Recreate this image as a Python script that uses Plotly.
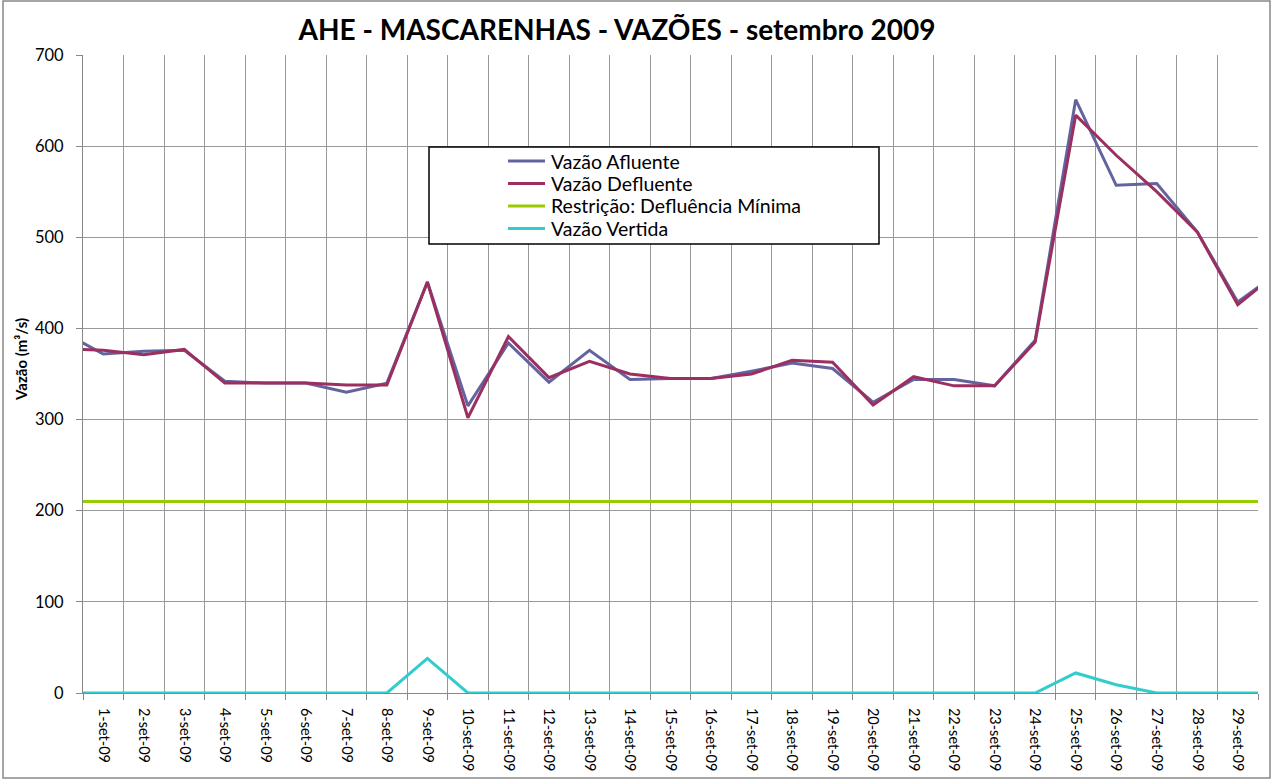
import plotly.graph_objects as go

# day numbers (0 = 31-ago, 30 = 30-set, partially outside visible range)
days = list(range(0, 31))
tick_days = list(range(1, 30))
tick_labels = [f"{d}-set-09" for d in tick_days]

afluente = [396, 372, 375, 376, 342, 340, 340, 330, 340, 451, 315, 384, 341, 376, 344, 345, 345,
            353, 362, 356, 319, 344, 344, 337, 387, 651, 557, 559, 506, 429, 461]
defluente = [378, 376, 371, 377, 340, 340, 340, 338, 338, 451, 302, 391, 346, 364, 350, 345, 345,
             350, 365, 363, 316, 347, 337, 337, 385, 634, 590, 550, 506, 426, 462]
restricao = [210] * 31
vertida = [0, 0, 0, 0, 0, 0, 0, 0, 0, 38, 0, 0, 0, 0, 0, 0, 0,
           0, 0, 0, 0, 0, 0, 0, 0, 22, 9, 0, 0, 0, 0]

series = [
    ("Vazão Afluente", afluente, "#63649F"),
    ("Vazão Defluente", defluente, "#9A2F60"),
    ("Restrição: Defluência Mínima", restricao, "#99CC00"),
    ("Vazão Vertida", vertida, "#33CCCC"),
]

FONT = "Lato"
W, H = 1273, 780
ml, mr, mt, mb = 83, 15, 55, 87
pw, ph = W - ml - mr, H - mt - mb

def px(xp):
    return (xp - ml) / pw

def py(yp):
    return (H - mb - yp) / ph

fig = go.Figure()
for name, vals, color in series:
    fig.add_trace(go.Scatter(x=days, y=vals, name=name, mode="lines",
                             line=dict(color=color, width=3), showlegend=False,
                             hoverinfo="skip"))

# manual legend (box, line samples, labels)
shapes = [
    dict(type="rect", xref="paper", yref="paper",
         x0=px(429), x1=px(879), y0=py(244), y1=py(147),
         fillcolor="white", line=dict(color="black", width=1.5), layer="above"),
    dict(type="rect", xref="paper", yref="paper",
         x0=px(3), x1=px(1270), y0=py(778), y1=py(1),
         fillcolor="rgba(0,0,0,0)", line=dict(color="#888888", width=1.5), layer="below"),
]
annotations = []
leg_y = [161, 183.5, 206, 228.5]
for (name, vals, color), yy in zip(series, leg_y):
    shapes.append(dict(type="line", xref="paper", yref="paper",
                       x0=px(508), x1=px(545), y0=py(yy), y1=py(yy),
                       line=dict(color=color, width=3), layer="above"))
    annotations.append(dict(text=name, xref="paper", yref="paper",
                            x=px(549), y=py(yy), xanchor="left", yanchor="middle",
                            showarrow=False, font=dict(size=19.5, family=FONT, color="black")))

annotations.append(dict(text="<b>Vazão (m³/s)</b>", xref="paper", yref="paper",
                        x=px(21), y=py(360), xanchor="center", yanchor="middle",
                        textangle=-90, showarrow=False,
                        font=dict(size=15, family=FONT, color="black")))

fig.update_layout(
    width=W, height=H,
    margin=dict(l=ml, r=mr, t=mt, b=mb, autoexpand=False),
    paper_bgcolor="white", plot_bgcolor="white",
    font=dict(family=FONT, color="black", size=14),
    title=dict(text="<b>AHE - MASCARENHAS - VAZÕES - setembro 2009</b>",
               x=617 / W, xanchor="center", y=1 - 30 / H, yanchor="middle",
               font=dict(size=28, family=FONT, color="black")),
    showlegend=False,
    xaxis=dict(range=[0.5, 29.5], tickmode="array", tickvals=tick_days, ticktext=tick_labels,
               tickangle=90, ticks="", showgrid=False, zeroline=False,
               showline=True, linecolor="#888888", linewidth=1,
               ticklabelstandoff=11,
               tickfont=dict(size=14.5, family=FONT, color="black"),
               minor=dict(tickmode="linear", tick0=0.5, dtick=1, showgrid=True,
                          gridcolor="#999999", gridwidth=1, ticks="outside",
                          ticklen=6, tickcolor="#888888")),
    yaxis=dict(range=[0, 700], tickmode="linear", tick0=0, dtick=100,
               showgrid=True, gridcolor="#999999", gridwidth=1, zeroline=False,
               showline=True, linecolor="#888888", linewidth=1,
               ticks="outside", ticklen=6, tickcolor="#888888",
               ticklabelstandoff=9,
               tickfont=dict(size=16.5, family=FONT, color="black")),
    shapes=shapes,
    annotations=annotations,
)

fig.write_html("out.html", config={"displayModeBar": False, "staticPlot": True},
               post_script="document.body.style.margin='0';document.body.style.padding='0';")
